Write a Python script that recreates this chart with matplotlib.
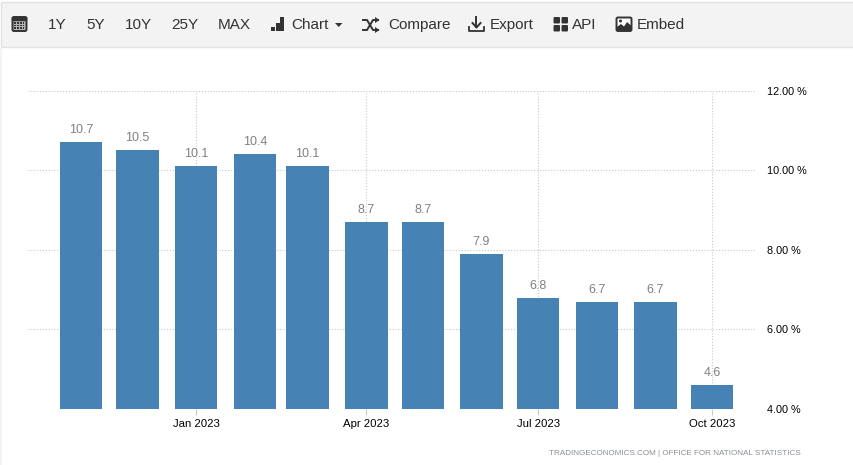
import matplotlib
matplotlib.use("Agg")
import matplotlib.pyplot as plt
import matplotlib.dates as mdates
import matplotlib.patches as mpatches
import pandas as pd

plt.rcParams["font.family"] = ["Liberation Sans", "DejaVu Sans"]

months = ["2022-11-01", "2022-12-01", "2023-01-01", "2023-02-01", "2023-03-01", "2023-04-01",
          "2023-05-01", "2023-06-01", "2023-07-01", "2023-08-01", "2023-09-01", "2023-10-01"]
inflation = [10.7, 10.5, 10.1, 10.4, 10.1, 8.7, 8.7, 7.9, 6.8, 6.7, 6.7, 4.6]
y_ticks = [4, 6, 8, 10, 12]
x_ticks = ["2023-01-01", "2023-04-01", "2023-07-01", "2023-10-01"]
toolbar_labels = [("1Y", 48), ("5Y", 86), ("10Y", 125), ("25Y", 171), ("MAX", 218),
                  ("Chart", 291), ("Compare", 388), ("Export", 490), ("API", 572), ("Embed", 637)]

W, H = 854, 465
BAR = "#4682b4"
DARK = "#333333"
GRID = "#c8c8c8"

fig = plt.figure(figsize=(W / 100, H / 100), dpi=100, facecolor="white")

# chart area, placed in pixels
left, right, top, bottom = 28, 755, 90.5, 409
ax = fig.add_axes([left / W, 1 - bottom / H, (right - left) / W, (bottom - top) / H])
dates = pd.to_datetime(months)
px_per_day = 631 / 334
ax.bar(dates, inflation, width=42.5 / px_per_day, color=BAR, zorder=3)
for d, v in zip(dates, inflation):
    ax.annotate(f"{v:.1f}", (d, v), xytext=(0, 4.2), textcoords="offset points", ha="center", va="bottom",
                fontsize=9, color="#808080", zorder=4)

ax.set_xlim(dates[0] - pd.Timedelta(days=53 / px_per_day), dates[0] + pd.Timedelta(days=674 / px_per_day))
ax.set_ylim(4, 12)
ax.set_yticks(y_ticks)
ax.set_yticklabels([f"{t:.2f} %" for t in y_ticks], fontsize=7.8, color="black")
ax.yaxis.tick_right()
ax.set_xticks(pd.to_datetime(x_ticks))
ax.xaxis.set_major_formatter(mdates.DateFormatter("%b %Y"))
ax.tick_params(axis="y", length=0, pad=8.6)
ax.tick_params(axis="x", length=4, width=0.8, color=GRID, labelsize=8.2, labelcolor="black", pad=3)
ax.grid(True, color=GRID, linestyle=(0, (1, 1.6)), linewidth=0.8, zorder=0)
ax.set_axisbelow(True)
for s in ax.spines.values():
    s.set_visible(False)

# toolbar and credit on a pixel overlay
ov = fig.add_axes([0, 0, 1, 1], facecolor="none")
ov.set_xlim(0, W)
ov.set_ylim(H, 0)
ov.axis("off")
ov.add_patch(mpatches.Rectangle((1.5, 2.5), W, 45, facecolor="#f3f3f3", edgecolor="#e2e2e2", linewidth=1))
ov.add_patch(mpatches.Rectangle((0, 47), 2, H, facecolor="#f3f3f3", edgecolor="none"))

for label, x in toolbar_labels:
    ov.text(x, 25, label, fontsize=11, color=DARK, va="center", ha="left")

# calendar icon
ov.add_patch(mpatches.FancyBboxPatch((12.5, 17), 14, 14, boxstyle="round,pad=0,rounding_size=1.5",
                                     facecolor="#b5b5b5", edgecolor=DARK, linewidth=1.4))
ov.add_patch(mpatches.Rectangle((12.5, 17), 14, 3, facecolor=DARK, edgecolor=DARK))
for i in range(4):
    for j in range(3):
        ov.add_patch(mpatches.Rectangle((14.5 + i * 2.7, 22 + j * 2.7), 1.7, 1.7, facecolor=DARK, edgecolor="none"))

# chart icon
for bx, bh in [(271.5, 4), (276, 8), (280.5, 14)]:
    ov.add_patch(mpatches.Rectangle((bx, 31 - bh), 4, bh, facecolor=DARK, edgecolor="none"))
ov.add_patch(mpatches.Polygon([(335, 23), (342.5, 23), (338.7, 27)], facecolor=DARK, edgecolor="none"))

# compare icon
ov.plot([363, 367, 373, 378], [20, 20, 30, 30], color=DARK, lw=1.4)
ov.plot([363, 367, 373, 378], [30, 30, 20, 20], color=DARK, lw=1.4)
ov.add_patch(mpatches.Polygon([(375, 17), (379.5, 20), (375, 23)], facecolor=DARK, edgecolor="none"))
ov.add_patch(mpatches.Polygon([(375, 27), (379.5, 30), (375, 33)], facecolor=DARK, edgecolor="none"))

# export icon
ov.plot([469, 469, 484, 484], [27, 31, 31, 27], color=DARK, lw=1.3)
ov.plot([476.5, 476.5], [17, 27], color=DARK, lw=1.4)
ov.plot([472.5, 476.5, 480.5], [23, 27.5, 23], color=DARK, lw=1.4)

# api icon
for ix in (553.5, 561.5):
    for iy in (17, 25):
        ov.add_patch(mpatches.FancyBboxPatch((ix, iy), 6.5, 6.5, boxstyle="round,pad=0,rounding_size=1.2",
                                             facecolor=DARK, edgecolor="none"))

# embed icon
ov.add_patch(mpatches.FancyBboxPatch((616.5, 17.5), 15, 13.5, boxstyle="round,pad=0,rounding_size=1.5",
                                     facecolor="white", edgecolor=DARK, linewidth=1.4))
ov.add_patch(mpatches.Polygon([(617, 30.5), (617, 27), (621, 24), (624, 26.5), (627, 22), (631, 25.5), (631, 30.5)],
                              facecolor=DARK, edgecolor="none"))
ov.add_patch(mpatches.Circle((620.5, 21), 1.5, facecolor=DARK, edgecolor="none"))

ov.text(801, 453, "TRADINGECONOMICS.COM | OFFICE FOR NATIONAL STATISTICS", fontsize=5.9, color="#8a8f99",
        ha="right", va="center")

fig.savefig("out.png", dpi=100)
plt.close()
